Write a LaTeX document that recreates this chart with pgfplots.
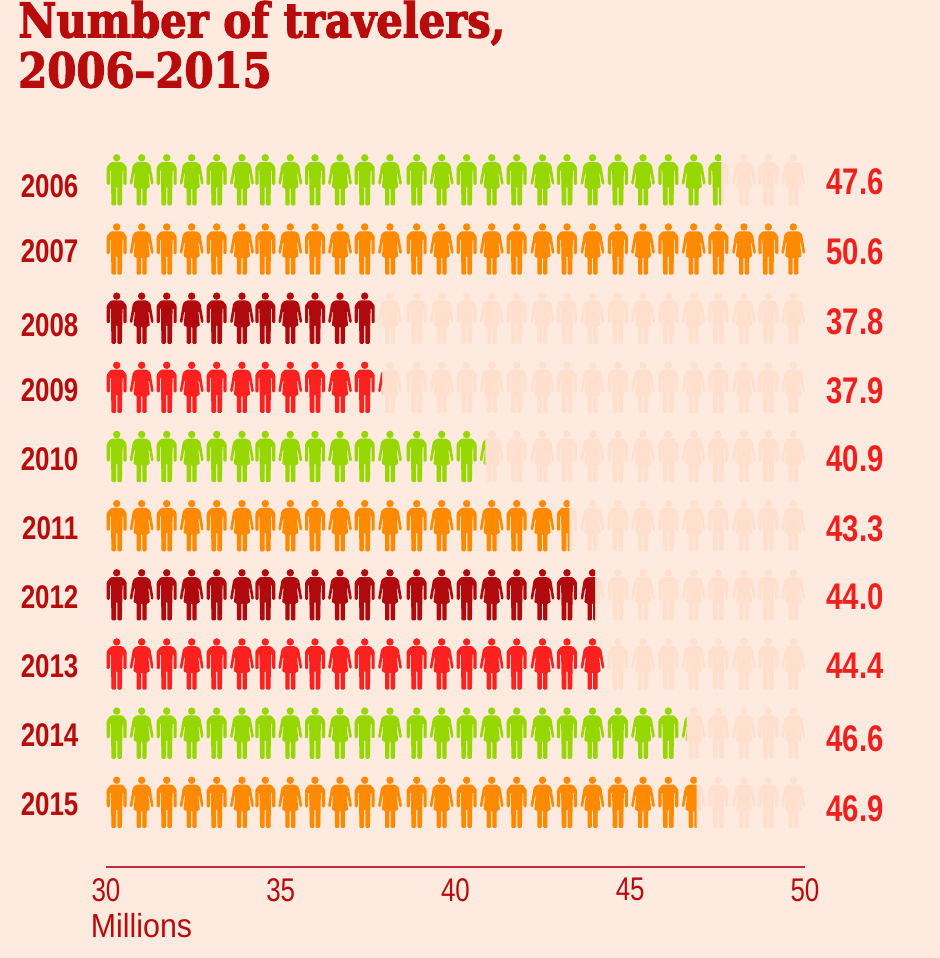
\documentclass[border=0pt]{standalone}
\usepackage{fontspec}
\usepackage{pgfplots}
\usepackage{pgfplotstable}
\pgfplotsset{compat=1.18}
\setmainfont{Liberation Sans}
\newfontfamily\cond{Liberation Sans}[FakeStretch=0.79]
\newfontfamily\condwide{Liberation Sans}[FakeStretch=0.91]
\newfontfamily\slab{DejaVu Serif Bold}[FakeStretch=0.87,FakeBold=2.4]

\definecolor{bg}{HTML}{FEEADF}
\definecolor{pale}{HTML}{FFE0CE}
\definecolor{lime}{HTML}{97D700}
\definecolor{tang}{HTML}{FF8A00}
\definecolor{maroon}{HTML}{B00A0E}
\definecolor{brightred}{HTML}{FF2020}
\definecolor{titlered}{HTML}{B80C0C}
\definecolor{valred}{HTML}{F0201E}
\definecolor{rule}{HTML}{C42B3C}

% point helpers, pictogram drawn in image pixels, origin mid figure
\def\Mv#1#2{\pgfpathmoveto{\pgfqpoint{#1pt}{#2pt}}}
\def\Ln#1#2{\pgfpathlineto{\pgfqpoint{#1pt}{#2pt}}}

\pgfdeclareplotmark{man}{%
  \pgftransformscale{0.75}\pgftransformyshift{-25.5pt}%
  \pgfsetcornersarced{\pgfqpoint{0.9pt}{0.9pt}}%
  \Mv{0}{43.4}\Ln{5.8}{43.4}\Ln{10}{38.5}\Ln{10}{20.6}\Ln{6.8}{20.6}\Ln{6.8}{36}%
  \Ln{5.9}{36}\Ln{5.2}{0}\Ln{0.6}{0}\Ln{0.6}{19}\Ln{-0.6}{19}\Ln{-0.6}{0}%
  \Ln{-5.2}{0}\Ln{-5.9}{36}\Ln{-6.8}{36}\Ln{-6.8}{20.6}\Ln{-10}{20.6}\Ln{-10}{38.5}%
  \Ln{-5.8}{43.4}\pgfpathclose
  \pgfpathcircle{\pgfqpoint{0pt}{47.7pt}}{3.7pt}%
  \pgfusepath{fill}}

\pgfdeclareplotmark{woman}{%
  \pgftransformscale{0.75}\pgftransformyshift{-25.5pt}%
  \pgfsetcornersarced{\pgfqpoint{0.9pt}{0.9pt}}%
  \Mv{0}{43.4}\Ln{5.2}{43.4}\Ln{8.8}{40.5}\Ln{12}{21.5}\Ln{9.6}{20.5}\Ln{7.3}{33}%
  \Ln{6.6}{33}\Ln{8.2}{17.6}\Ln{5}{17.6}\Ln{5}{0}\Ln{0.6}{0}\Ln{0.6}{17.6}%
  \Ln{-0.6}{17.6}\Ln{-0.6}{0}\Ln{-5}{0}\Ln{-5}{17.6}\Ln{-8.2}{17.6}\Ln{-6.6}{33}%
  \Ln{-7.3}{33}\Ln{-9.6}{20.5}\Ln{-12}{21.5}\Ln{-8.8}{40.5}\Ln{-5.2}{43.4}\pgfpathclose
  \pgfpathcircle{\pgfqpoint{0pt}{47.7pt}}{3.7pt}%
  \pgfusepath{fill}}

% figure cut at the series value: #3 is the cut in pixels from its centre
\newcommand\cutmark[3]{%
  \pgfdeclareplotmark{#1}{%
    \pgfsetcornersarced{\pgfqpoint{0pt}{0pt}}%
    \pgfpathrectangle{\pgfqpoint{-15pt}{-30pt}}{\pgfpoint{15pt+#3*0.75pt}{60pt}}%
    \pgfusepath{clip}\pgfuseplotmark{#2}}}

\pgfplotstableread{
k x
0 30.306
2 31.737
4 33.167
6 34.558
8 35.980
10 37.402
12 38.890
14 40.320
16 41.751
18 43.190
20 44.649
22 46.089
24 47.519
26 48.950
}\menx
\pgfplotstableread{
k x
1 31.021
3 32.452
5 33.891
7 35.273
9 36.695
11 38.126
13 39.605
15 41.036
17 42.489
19 43.920
21 45.365
23 46.815
25 48.255
27 49.665
}\womenx
\pgfplotstableread{
year valy value
2006 2006.03 47.6
2007 2007.04 50.6
2008 2008.05 37.8
2009 2009.05 37.9
2010 2010.035 40.9
2011 2011.047 43.3
2012 2012.03 44.0
2013 2013.03 44.4
2014 2014.084 46.6
2015 2015.096 46.9
}\totals

% #1 year, #2 colour, #3 last x drawn whole
\newcommand\personrow[3]{%
  \addplot[only marks,mark=man,color=pale] table[x=x,y expr=#1]{\menx};
  \addplot[only marks,mark=woman,color=pale] table[x=x,y expr=#1]{\womenx};
  \addplot[only marks,mark=man,color=#2,restrict x to domain=30:#3] table[x=x,y expr=#1]{\menx};
  \addplot[only marks,mark=woman,color=#2,restrict x to domain=30:#3] table[x=x,y expr=#1]{\womenx};
}

\cutmark{c2006}{man}{2.8}
\cutmark{c2009}{woman}{-7.9}
\cutmark{c2010}{woman}{-6.3}
\cutmark{c2011}{man}{2.4}
\cutmark{c2012}{woman}{2.5}
\cutmark{c2014}{woman}{-7}
\cutmark{c2015}{woman}{3.0}

\begin{document}
\begin{tikzpicture}
\fill[bg] (0,0) rectangle (705pt,718.5pt);
\useasboundingbox (0,0) rectangle (705pt,718.5pt);
\begin{axis}[
at={(79.5pt,68.25pt)},
anchor=south west,
scale only axis,
width=524.25pt,
height=541.2pt,
clip=false,
xmin=30,xmax=50,
ymin=2005.5,ymax=2015.933,
y dir=reverse,
axis x line=bottom,
axis y line=left,
axis line style={-,draw=rule,line width=1pt},
y axis line style={draw=none},
xtick={30,35,40,45,50},
ytick={2006.087,2007.027,2008.097,2009.037,2010.035,2011.033,2012.03,2013.03,2014.026,2015.024},
yticklabels={2006,2007,2008,2009,2010,2011,2012,2013,2014,2015},
major tick length=0pt,
/pgf/number format/assume math mode=true,
/pgf/number format/1000 sep={},
xticklabel style={font=\cond\fontsize{24.6}{26}\selectfont,text=titlered,inner sep=0pt,anchor=north,yshift=-8.25pt},
yticklabel style={font=\cond\bfseries\fontsize{24.6}{26}\selectfont,text=titlered,inner sep=0pt,anchor=east,xshift=-20.5pt},
xlabel={Millions},
every axis x label/.style={at={(axis description cs:0,0)},anchor=base west,xshift=-11.5pt,yshift=-53pt,font=\condwide\fontsize{25}{27}\selectfont,text=titlered,inner sep=0pt},
]
\personrow{2006}{lime}{47}
\personrow{2007}{tang}{50}
\personrow{2008}{maroon}{37.8}
\personrow{2009}{brightred}{37.8}
\personrow{2010}{lime}{40.5}
\personrow{2011}{tang}{42.7}
\personrow{2012}{maroon}{43.3}
\personrow{2013}{brightred}{44.4}
\personrow{2014}{lime}{46.2}
\personrow{2015}{tang}{46.2}
\addplot[only marks,mark=c2006,color=lime] coordinates {(47.519,2006)};
\addplot[only marks,mark=c2009,color=brightred] coordinates {(38.126,2009)};
\addplot[only marks,mark=c2010,color=lime] coordinates {(41.036,2010)};
\addplot[only marks,mark=c2011,color=tang] coordinates {(43.190,2011)};
\addplot[only marks,mark=c2012,color=maroon] coordinates {(43.920,2012)};
\addplot[only marks,mark=c2014,color=lime] coordinates {(46.815,2014)};
\addplot[only marks,mark=c2015,color=tang] coordinates {(46.815,2015)};
\addplot[only marks,mark=none,point meta=explicit symbolic,
  nodes near coords,
  nodes near coords style={anchor=center,inner sep=0pt,font=\cond\bfseries\fontsize{27.8}{29}\selectfont,text=valred}]
  table[x expr=51.43,y=valy,meta=value]{\totals};
\end{axis}
\node[anchor=north west,inner sep=0pt,align=left,text=titlered,font=\slab\fontsize{36}{37.5}\selectfont] at (13.5pt,718pt) {Number of travelers,\\2006–2015};
\end{tikzpicture}
\end{document}
